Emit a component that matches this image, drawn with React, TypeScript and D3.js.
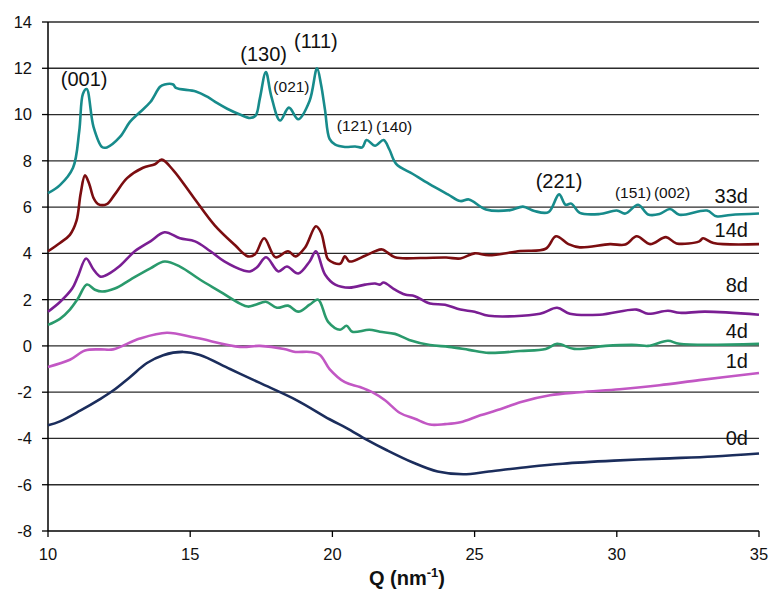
import React from "react";
import * as d3 from "d3";

// [Q, intensity], one array per ageing time
const d33 = [
  [10, 6.6], [10.42, 6.95], [10.88, 7.7], [11.1, 9.3], [11.23, 10.9], [11.36, 11.1],
  [11.6, 9.47], [11.9, 8.6], [12.07, 8.58], [12.53, 9.03], [12.88, 9.68], [13.23, 10.1],
  [13.6, 10.54], [13.94, 11.2], [14.1, 11.3], [14.4, 11.3], [14.5, 11.15], [15.2, 11.0],
  [15.6, 10.77], [15.94, 10.5], [16.3, 10.25], [16.75, 10.0], [17.1, 9.85], [17.3, 9.95],
  [17.45, 10.7], [17.66, 11.84], [17.85, 10.8], [18.16, 9.74], [18.47, 10.3], [18.8, 9.8],
  [19.2, 10.6], [19.46, 12.0], [19.6, 11.3], [19.74, 10.2], [19.9, 8.95], [20.1, 8.7],
  [20.44, 8.6], [20.8, 8.62], [21.05, 8.58], [21.2, 8.9], [21.5, 8.65], [21.8, 8.9],
  [22.0, 8.5], [22.24, 7.87], [22.83, 7.43], [23.4, 7.0], [24.06, 6.55], [24.5, 6.26],
  [24.8, 6.33], [25.4, 5.9], [26.25, 5.87], [26.7, 6.02], [27.1, 5.83], [27.6, 5.78],
  [27.97, 6.55], [28.2, 6.1], [28.4, 6.15], [28.7, 5.75], [29.4, 5.7], [30.0, 5.85],
  [30.3, 5.72], [30.75, 6.1], [31.1, 5.68], [31.5, 5.7], [31.87, 5.92], [32.2, 5.67],
  [33.17, 5.85], [33.5, 5.6], [34, 5.66], [35, 5.72],
];

const d14 = [
  [10, 4.09], [10.42, 4.45], [10.77, 4.8], [11.0, 5.4], [11.15, 6.6], [11.3, 7.37],
  [11.45, 7.0], [11.6, 6.4], [11.76, 6.13], [12.07, 6.13], [12.35, 6.55], [12.78, 7.25],
  [13.34, 7.7], [13.76, 7.85], [14.0, 8.05], [14.4, 7.6], [15.1, 6.45], [15.87, 5.2],
  [16.58, 4.35], [17.03, 3.87], [17.28, 3.96], [17.6, 4.65], [18.0, 3.83], [18.44, 4.09],
  [18.7, 3.87], [19.04, 4.25], [19.42, 5.17], [19.6, 4.9], [19.74, 4.2], [19.85, 3.74],
  [20.27, 3.55], [20.44, 3.87], [20.6, 3.65], [21.15, 3.9], [21.5, 4.09], [21.75, 4.17],
  [22.2, 3.83], [23.1, 3.8], [24.0, 3.82], [24.5, 3.78], [25.0, 4.0], [25.5, 3.92],
  [26.6, 4.1], [27.5, 4.2], [27.86, 4.74], [28.3, 4.4], [28.7, 4.26], [29.76, 4.4],
  [30.3, 4.38], [30.7, 4.74], [31.17, 4.4], [31.73, 4.7], [32.1, 4.43], [32.9, 4.52],
  [33.03, 4.65], [33.4, 4.45], [35, 4.4],
];

const d8 = [
  [10, 1.48], [10.42, 1.9], [10.85, 2.48], [11.05, 3.0], [11.34, 3.78], [11.6, 3.3],
  [11.83, 3.0], [12.0, 3.03], [12.5, 3.43], [13.06, 4.1], [13.6, 4.52], [14.1, 4.91],
  [14.64, 4.65], [15.17, 4.52], [15.7, 4.1], [16.2, 3.65], [16.9, 3.25], [17.1, 3.22],
  [17.35, 3.4], [17.67, 3.83], [18.1, 3.22], [18.4, 3.43], [18.8, 3.13], [19.2, 3.65],
  [19.42, 4.09], [19.74, 3.09], [20.1, 2.65], [20.6, 2.52], [21.15, 2.65], [21.5, 2.7],
  [21.67, 2.65], [21.8, 2.74], [22.2, 2.43], [22.55, 2.22], [22.9, 2.15], [23.43, 1.83],
  [23.96, 1.78], [24.5, 1.57], [25, 1.48], [25.5, 1.3], [27.3, 1.39], [27.9, 1.65],
  [28.35, 1.39], [29.4, 1.35], [30.7, 1.57], [31.1, 1.39], [31.8, 1.52], [32.2, 1.43],
  [33.1, 1.48], [35, 1.35],
];

const d4 = [
  [10, 0.91], [10.42, 1.17], [10.77, 1.57], [11.05, 2.04], [11.37, 2.65], [11.65, 2.43],
  [11.9, 2.35], [12.35, 2.48], [12.9, 2.87], [13.6, 3.35], [14.1, 3.65], [14.64, 3.43],
  [15.34, 2.87], [16.05, 2.35], [16.75, 1.83], [17.03, 1.7], [17.3, 1.78], [17.66, 1.91],
  [18.05, 1.65], [18.44, 1.74], [18.8, 1.48], [19.2, 1.78], [19.5, 2.0], [19.85, 1.04],
  [20.27, 0.7], [20.5, 0.87], [20.7, 0.61], [21.3, 0.7], [21.67, 0.61], [22.2, 0.52],
  [22.7, 0.26], [23.43, 0.04], [24.1, -0.04], [24.8, -0.17], [25.5, -0.3], [26.6, -0.22],
  [27.5, -0.13], [27.9, 0.09], [28.5, -0.13], [29.6, 0.0], [30.7, 0.04], [31.1, 0.0],
  [31.8, 0.22], [32.2, 0.09], [35, 0.09],
];

const d1 = [
  [10, -0.91], [10.77, -0.6], [11.3, -0.2], [11.83, -0.15], [12.29, -0.15], [13.23, 0.32],
  [14.18, 0.57], [15.2, 0.35], [16.75, -0.04], [17.45, 0.0], [18.3, -0.13], [18.7, -0.26],
  [19.2, -0.26], [19.56, -0.39], [19.9, -1.0], [20.44, -1.57], [20.97, -1.78], [21.4, -2.0],
  [21.85, -2.35], [22.38, -2.9], [22.9, -3.15], [23.43, -3.4], [23.96, -3.38], [24.5, -3.3],
  [25.2, -3.0], [25.9, -2.74], [26.6, -2.43], [27.65, -2.13], [28.7, -2.0], [30.1, -1.87],
  [31.5, -1.7], [32.9, -1.48], [35, -1.17],
];

const d0 = [
  [10, -3.43], [10.42, -3.26], [11.13, -2.8], [11.83, -2.3], [12.29, -1.93], [12.88, -1.35],
  [13.48, -0.74], [14.05, -0.4], [14.75, -0.26], [15.34, -0.39], [16.4, -1.0], [17.45, -1.6],
  [18.75, -2.35], [19.9, -3.17], [20.5, -3.55], [21.2, -4.05], [21.9, -4.5], [22.83, -5.04],
  [23.7, -5.43], [24.6, -5.55], [25.5, -5.43], [26.95, -5.22], [28.1, -5.09], [29.9, -4.96],
  [31.6, -4.87], [33.4, -4.78], [35, -4.65],
];

const seriesNames = ["33d", "14d", "8d", "4d", "1d", "0d"];
const seriesData = [d33, d14, d8, d4, d1, d0];
const seriesColors = ["#178b8b", "#7b0d10", "#7a1e93", "#2a9a6c", "#c257c4", "#1b2d5c"];
// where the series name sits (Q of right end, intensity of baseline)
const seriesLabelPos = [[34.61, 6.18], [34.61, 4.71], [34.61, 2.33], [34.61, 0.34], [34.61, -0.95], [34.61, -4.28]];

const peakLabels = ["(001)", "(130)", "(111)", "(021)", "(121)", "(140)", "(221)", "(151)", "(002)"];
const peakQ = [11.27, 17.58, 19.42, 18.56, 20.79, 22.17, 27.97, 30.57, 31.94];
const peakI = [11.23, 12.31, 12.88, 10.99, 9.29, 9.26, 6.83, 6.39, 6.39];
const peakBig = [true, true, true, false, false, false, true, false, false];

const xTicks = [10, 15, 20, 25, 30, 35];
const yTicks = [-8, -6, -4, -2, 0, 2, 4, 6, 8, 10, 12, 14];

const W = 770;
const H = 589;
const left = 48;
const right = 759;
const top = 22;
const bottom = 531;
const font = "'Liberation Sans', Arial, Helvetica, sans-serif";

export default function App() {
  const x = d3.scaleLinear().domain([10, 35]).range([left, right]);
  const y = d3.scaleLinear().domain([-8, 14]).range([bottom, top]);
  const line = d3
    .line<number[]>()
    .x((d) => x(d[0]))
    .y((d) => y(d[1]))
    .curve(d3.curveCatmullRom.alpha(0.5));

  return (
    <svg
      width={W}
      height={H}
      style={{ position: "absolute", left: 0, top: 0, background: "#fff" }}
      fontFamily={font}
    >
      {/* gridlines + y ticks */}
      {yTicks.map((t) => (
        <g key={t}>
          {t !== -8 && (
            <line x1={left} x2={right} y1={y(t)} y2={y(t)} stroke="#2b2b2b" strokeWidth={1.3} />
          )}
          <line x1={left - 6} x2={left} y1={y(t)} y2={y(t)} stroke="#000" strokeWidth={1.3} />
          <text x={32} y={y(t)} dy="0.36em" textAnchor="end" fontSize={16.5} fill="#111">
            {t}
          </text>
        </g>
      ))}

      {/* axes */}
      <line x1={left} x2={left} y1={top} y2={bottom} stroke="#000" strokeWidth={1.5} />
      <line x1={left} x2={right} y1={bottom} y2={bottom} stroke="#000" strokeWidth={1.5} />
      {xTicks.map((t) => (
        <g key={t}>
          <line x1={x(t)} x2={x(t)} y1={bottom} y2={bottom + 6} stroke="#000" strokeWidth={1.3} />
          <text x={x(t)} y={560} textAnchor="middle" fontSize={16.5} fill="#111">
            {t}
          </text>
        </g>
      ))}
      <text x={407} y={585} textAnchor="middle" fontSize={20} fontWeight="bold" fill="#111">
        Q (nm
        <tspan fontSize={13} dy={-8}>-1</tspan>
        <tspan dy={8}>)</tspan>
      </text>

      {/* series */}
      {seriesData.map((d, i) => (
        <path
          key={seriesNames[i]}
          d={line(d as number[][]) || ""}
          fill="none"
          stroke={seriesColors[i]}
          strokeWidth={2.6}
          strokeLinejoin="round"
        />
      ))}

      {seriesNames.map((n, i) => (
        <text
          key={n}
          x={x(seriesLabelPos[i][0])}
          y={y(seriesLabelPos[i][1])}
          textAnchor="end"
          fontSize={20}
          fill="#111"
        >
          {n}
        </text>
      ))}

      {peakLabels.map((p, i) => (
        <text
          key={p}
          x={x(peakQ[i])}
          y={y(peakI[i])}
          textAnchor="middle"
          fontSize={peakBig[i] ? 20 : 15.5}
          fill="#111"
        >
          {p}
        </text>
      ))}
    </svg>
  );
}
